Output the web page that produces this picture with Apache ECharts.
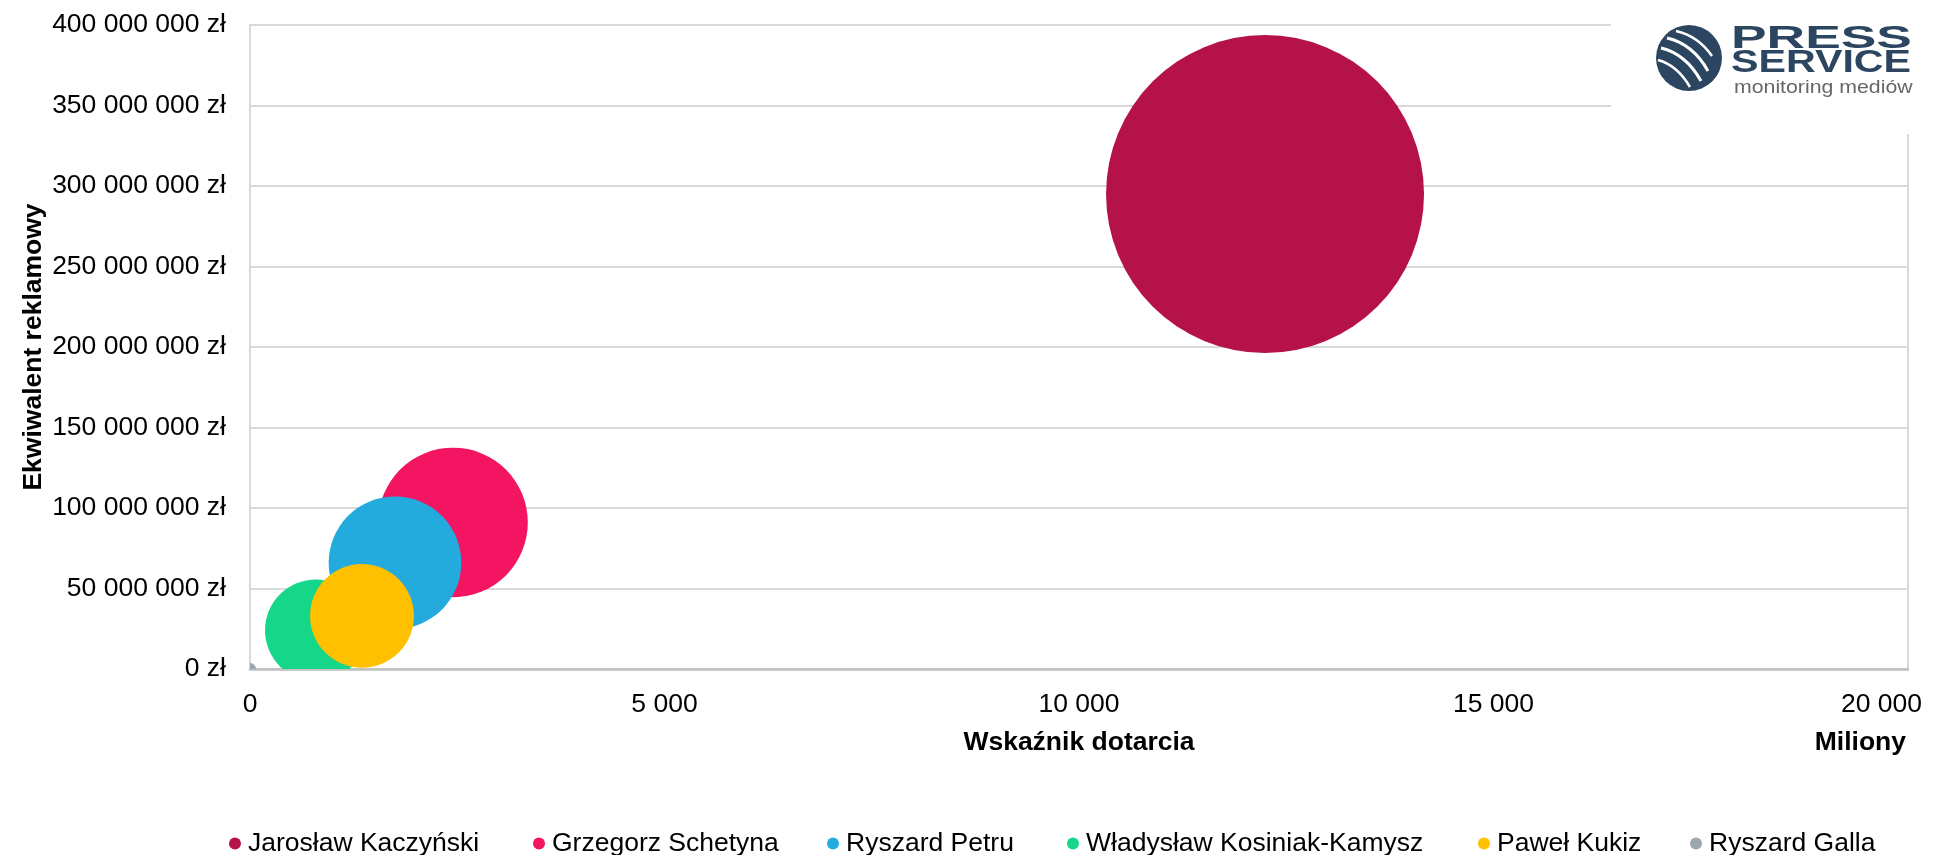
<!DOCTYPE html>
<html>
<head>
<meta charset="utf-8">
<script src="https://cdn.jsdelivr.net/npm/echarts@6/dist/echarts.min.js"></script>
<style>html,body{margin:0;padding:0;background:#fff;}#c{width:1953px;height:855px;}</style>
</head>
<body>
<div id="c"></div>
<script>
const names = ['Jarosław Kaczyński','Grzegorz Schetyna','Ryszard Petru','Władysław Kosiniak-Kamysz','Paweł Kukiz','Ryszard Galla'];
const colors = ['#B5124A','#F31462','#23ABDD','#16D68A','#FFC000','#9BA8B0'];
const reach = [12244, 2449, 1749, 796, 1351, 0];            // Wskaźnik dotarcia (miliony)
const adValue = [295000000, 91000000, 66000000, 24000000, 33000000, 0]; // Ekwiwalent reklamowy (zł)
const bubbleSize = [25300, 5600, 4400, 2600, 2700, 36];
const xTicks = [0, 5000, 10000, 15000, 20000];
const yTicks = [0, 50000000, 100000000, 150000000, 200000000, 250000000, 300000000, 350000000, 400000000];
const legendX = [235, 539, 833, 1073, 1484, 1696];

const FONT = '"Liberation Sans", Arial, sans-serif';
const FS = 26.5;
const MAXD = 318;
const maxSize = Math.max(...bubbleSize);
function fmt(v){ return String(Math.round(v)).replace(/\B(?=(\d{3})+(?!\d))/g, ' '); }

const chart = echarts.init(document.getElementById('c'), null, {renderer:'canvas'});

const series = names.map((n,i)=>({
  type:'custom', name:n, clip:true,
  data:[[reach[i], adValue[i], bubbleSize[i]]],
  encode:{x:0, y:1},
  itemStyle:{color:colors[i]},
  renderItem:(params, api)=>{
    const p = api.coord([api.value(0), api.value(1)]);
    const r = MAXD/2 * Math.sqrt(api.value(2)/maxSize);
    return {type:'circle', shape:{cx:p[0], cy:p[1], r:r}, style:{fill:colors[i]}};
  },
  emphasis:{disabled:true}
}));

const legends = names.map((n,i)=>({
  data:[n], left: legendX[i]-6, top: 830, padding:0,
  icon:'circle', itemWidth:12, itemHeight:12, itemGap:0,
  textStyle:{fontFamily:FONT, fontSize:FS, color:'#000', padding:[0,0,0,2]},
  selectedMode:false
}));

const xMax = xTicks[xTicks.length-1];

const option = {
  animation:false,
  backgroundColor:'#fff',
  grid:{left:250, right:45, top:25, bottom:186, outerBoundsMode:'none', containLabel:false,
        show:true, borderColor:'#D9D9D9', borderWidth:2, backgroundColor:'transparent'},
  legend: legends,
  xAxis:{
    type:'value', min:xTicks[0], max:xMax, interval:xTicks[1]-xTicks[0],
    name:'Wskaźnik dotarcia', nameLocation:'middle', nameGap:60, nameMoveOverlap:false,
    nameTextStyle:{fontFamily:FONT, fontSize:FS, fontWeight:'bold', color:'#000'},
    axisLine:{show:true, lineStyle:{color:'#BFBFBF', width:2.5}},
    axisTick:{show:false},
    axisLabel:{fontFamily:FONT, fontSize:FS, color:'#000', margin:22,
      formatter:v=> v === xMax ? fmt(v)+'\u2003\u2003' : fmt(v)},
    splitLine:{show:false}
  },
  yAxis:{
    type:'value', min:yTicks[0], max:yTicks[yTicks.length-1], interval:yTicks[1]-yTicks[0],
    name:'Ekwiwalent reklamowy', nameLocation:'middle', nameGap:203, nameRotate:90, nameMoveOverlap:false,
    nameTextStyle:{fontFamily:FONT, fontSize:FS, fontWeight:'bold', color:'#000'},
    axisLine:{show:true, lineStyle:{color:'#D9D9D9', width:2}},
    axisTick:{show:false},
    axisLabel:{fontFamily:FONT, fontSize:FS, color:'#000', margin:24, formatter:v=>fmt(v)+' zł'},
    splitLine:{show:true, lineStyle:{color:'#D9D9D9', width:2}}
  },
  series: series,
  graphic:[
    {type:'text', right:47, top:729, z:100, style:{text:'Miliony', font:'bold '+FS+'px '+FONT, fill:'#000'}},
    {type:'rect', shape:{x:1611, y:0, width:342, height:134}, style:{fill:'#fff'}, z:100},
    {type:'circle', shape:{cx:1689, cy:58, r:33}, style:{fill:'#2C4560'}, z:101},
    {type:'bezierCurve', shape:{x1:1676,y1:31,x2:1712,y2:56,cpx1:1698,cpy1:36}, style:{stroke:'#fff', lineWidth:2.5, fill:null}, z:102},
    {type:'bezierCurve', shape:{x1:1667,y1:38,x2:1708,y2:71,cpx1:1693,cpy1:44}, style:{stroke:'#fff', lineWidth:3, fill:null}, z:102},
    {type:'bezierCurve', shape:{x1:1661,y1:48,x2:1701,y2:81,cpx1:1686,cpy1:54}, style:{stroke:'#fff', lineWidth:3, fill:null}, z:102},
    {type:'bezierCurve', shape:{x1:1658,y1:60,x2:1690,y2:87,cpx1:1677,cpy1:65}, style:{stroke:'#fff', lineWidth:2.5, fill:null}, z:102},
    {type:'text', x:1731, y:39, scaleX:1.84, scaleY:1.08, z:101, style:{text:'PRESS', font:'bold 29px '+FONT, fill:'#2C4560', verticalAlign:'middle'}},
    {type:'text', x:1731, y:63, scaleX:1.42, scaleY:1.08, z:101, style:{text:'SERVICE', font:'bold 29px '+FONT, fill:'#2C4560', verticalAlign:'middle'}},
    {type:'text', x:1734, y:88, scaleX:1.12, z:101, style:{text:'monitoring mediów', font:'19px '+FONT, fill:'#666', verticalAlign:'middle'}}
  ]
};
chart.setOption(option);
</script>
</body>
</html>
